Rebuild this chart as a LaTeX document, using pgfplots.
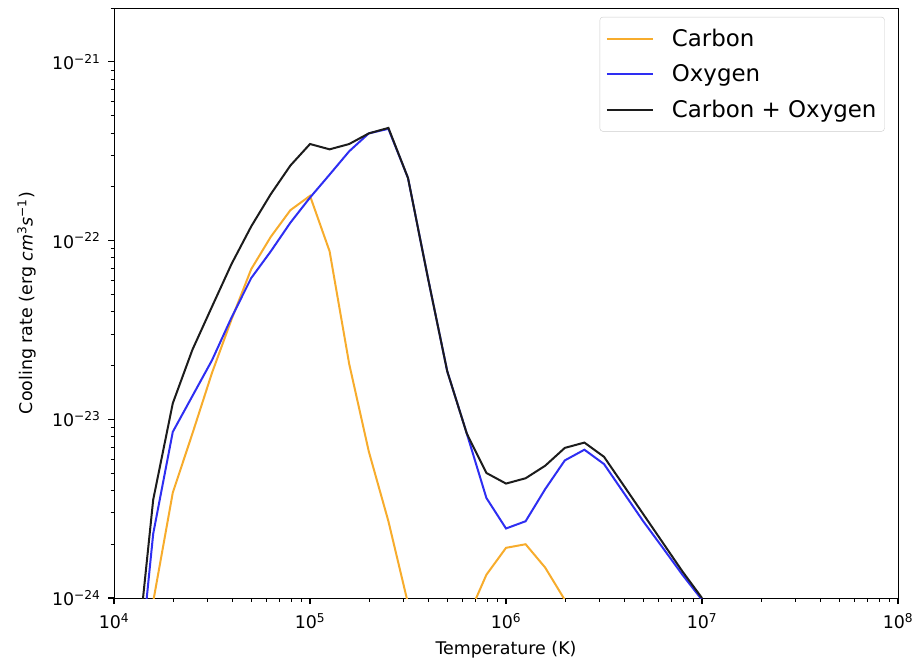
\documentclass[border=0pt]{standalone}
\usepackage{pgfplots}
\pgfplotsset{compat=1.18}
\usepackage{fontspec}
\setmainfont{DejaVu Sans}
\definecolor{cC}{HTML}{F7AC2C}
\definecolor{cO}{HTML}{2E2EF2}
\definecolor{cCO}{HTML}{1C1C1C}
\begin{document}
\begin{tikzpicture}
\begin{axis}[
  scale only axis, width=784bp, height=590bp,
  xmode=log, ymode=log,
  xmin=1e4, xmax=1e8, ymin=1e-24, ymax=2e-21,
  xtick={1e4,1e5,1e6,1e7,1e8},
  xticklabels={10\textsuperscript{4},10\textsuperscript{5},10\textsuperscript{6},10\textsuperscript{7},10\textsuperscript{8}},
  minor xtick={2e4,3e4,4e4,5e4,6e4,7e4,8e4,9e4,2e5,3e5,4e5,5e5,6e5,7e5,8e5,9e5,2e6,3e6,4e6,5e6,6e6,7e6,8e6,9e6,2e7,3e7,4e7,5e7,6e7,7e7,8e7,9e7},
  ytick={1e-24,1e-23,1e-22,1e-21},
  yticklabels={10\textsuperscript{−24},10\textsuperscript{−23},10\textsuperscript{−22},10\textsuperscript{−21}},
  minor ytick={2e-24,3e-24,4e-24,5e-24,6e-24,7e-24,8e-24,9e-24,2e-23,3e-23,4e-23,5e-23,6e-23,7e-23,8e-23,9e-23,2e-22,3e-22,4e-22,5e-22,6e-22,7e-22,8e-22,9e-22,2e-21},
  tick align=outside, xtick pos=bottom, ytick pos=left,
  major tick length=6bp, minor tick length=3.5bp,
  major tick style={black, line width=1.1bp},
  minor tick style={black, line width=0.9bp},
  axis line style={line width=1bp},
  tick label style={font=\fontsize{17.5}{20}\selectfont},
  xticklabel style={yshift=-6bp},
  yticklabel style={xshift=-4bp},
  label style={font=\fontsize{17.5}{20}\selectfont},
  xlabel={Temperature (K)},
  xlabel style={yshift=-5bp},
  ylabel={Cooling rate (erg \textit{cm}\textsuperscript{3}\textit{s}\textsuperscript{−1})},
  ylabel style={yshift=9bp},
  legend style={at={(0.983,0.985)}, anchor=north east, draw=black!20, rounded corners=3bp,
    font=\fontsize{23}{26}\selectfont, inner xsep=6bp, inner ysep=10bp, row sep=13bp,
    /tikz/every odd column/.append style={column sep=16bp}},
  legend cell align=left,
  legend image code/.code={\draw[#1] (0bp,0bp) -- (46bp,0bp);},
  every axis plot/.append style={line width=2bp},
]
\coordinate (SW) at (rel axis cs:0,0);
\coordinate (NE) at (rel axis cs:1,1);
% Carbon
\addplot[cC] coordinates {
(12589,3.16e-26) (15849,9.55e-25) (19953,3.89e-24) (25119,8.32e-24) (31623,1.82e-23)
(39811,3.63e-23) (50119,6.92e-23) (63096,1.05e-22) (79433,1.48e-22) (100000,1.78e-22)
(125893,8.71e-23) (158489,2.04e-23) (199526,6.61e-24) (251189,2.69e-24) (316228,9.33e-25)
(398107,3.98e-25) (501187,2.51e-25) (630957,7.59e-25) (794328,1.35e-24) (1000000,1.91e-24)
(1258925,2.00e-24) (1584893,1.48e-24) (1995262,9.77e-25) (2511886,5.01e-25)
};
\addlegendentry{Carbon}
% Oxygen
\addplot[cO] coordinates {
(12589,1.86e-25) (15849,2.29e-24) (19953,8.51e-24) (25119,1.35e-23) (31623,2.14e-23)
(39811,3.72e-23) (50119,6.17e-23) (63096,8.71e-23) (79433,1.26e-22) (100000,1.74e-22)
(125893,2.34e-22) (158489,3.16e-22) (199526,3.98e-22) (251189,4.22e-22) (316228,2.24e-22)
(398107,6.31e-23) (501187,1.86e-23) (630957,8.32e-24) (794328,3.63e-24) (1000000,2.45e-24)
(1258925,2.69e-24) (1584893,4.07e-24) (1995262,5.89e-24) (2511886,6.76e-24) (3162278,5.62e-24)
(3981072,3.89e-24) (5011872,2.69e-24) (6309573,1.91e-24) (7943282,1.35e-24) (10000000,9.77e-25)
};
\addlegendentry{Oxygen}
% Carbon + Oxygen
\addplot[cCO] coordinates {
(12589,3.09e-25) (15849,3.55e-24) (19953,1.23e-23) (25119,2.45e-23) (31623,4.27e-23)
(39811,7.41e-23) (50119,1.20e-22) (63096,1.82e-22) (79433,2.63e-22) (100000,3.47e-22)
(125893,3.24e-22) (158489,3.47e-22) (199526,3.98e-22) (251189,4.27e-22) (316228,2.24e-22)
(398107,6.31e-23) (501187,1.86e-23) (630957,8.32e-24) (794328,5.01e-24) (1000000,4.37e-24)
(1258925,4.68e-24) (1584893,5.50e-24) (1995262,6.92e-24) (2511886,7.41e-24) (3162278,6.17e-24)
(3981072,4.27e-24) (5011872,2.95e-24) (6309573,2.04e-24) (7943282,1.41e-24) (10000000,1.00e-24)
};
\addlegendentry{Carbon + Oxygen}
\end{axis}
\pgfresetboundingbox
\path[use as bounding box] ([xshift=-114bp,yshift=-64bp]SW) rectangle ([xshift=16bp,yshift=8bp]NE);
\end{tikzpicture}
\end{document}
